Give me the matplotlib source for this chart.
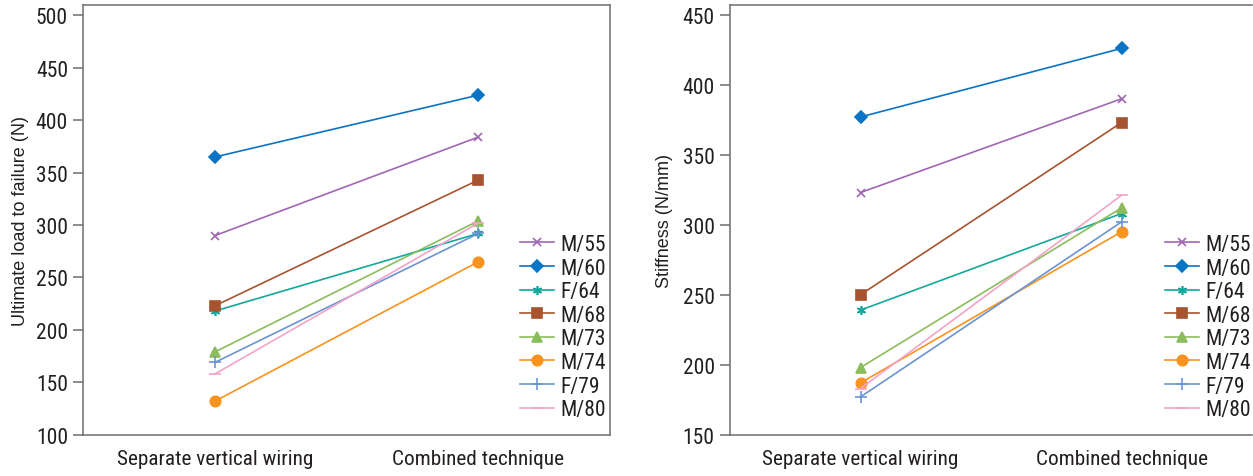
import matplotlib.pyplot as plt

categories = ['Separate vertical wiring', 'Combined technique']
subjects = ['M/55', 'M/60', 'F/64', 'M/68', 'M/73', 'M/74', 'F/79', 'M/80']

load_separate = [290, 365, 218, 223, 179, 132, 169, 158]
load_combined = [384, 424, 292, 343, 304, 265, 292, 302]

stiff_separate = [323, 377, 239, 250, 198, 187, 177, 183]
stiff_combined = [390, 426, 308, 373, 312, 295, 302, 321]

colors = ['#a066b4', '#0a74c4', '#14a89a', '#a8532f', '#8bbd5c', '#f7931e', '#6b93d2', '#f4a3c8']
markers = ['x', 'D', (6, 2, 0), 's', '^', 'o', '+', '_']
msizes = [6, 6.5, 6.5, 7, 7.5, 7.5, 8, 8]

tick_font = ['Liberation Sans Narrow', 'Roboto Condensed', 'DejaVu Sans']
label_font = ['Liberation Sans', 'DejaVu Sans']
text_color = '#231f20'
axis_color = '#6d6e71'

fig = plt.figure(figsize=(12.53, 4.77), dpi=100)
W, H = 1253.0, 477.0

def draw(ax, sep, comb, ylim, yticks, ylabel, label_x, legend_x):
    for i, name in enumerate(subjects):
        ax.plot([0, 1], [sep[i], comb[i]], color=colors[i], lw=1.2,
                marker=markers[i], markersize=msizes[i], markeredgewidth=1.2,
                label=name, clip_on=False)
    ax.set_xlim(-0.5, 1.5)
    ax.set_ylim(*ylim)
    ax.set_yticks(yticks)
    ax.set_xticks([0, 1])
    ax.set_xticklabels(categories, family=tick_font, stretch='condensed',
                       fontsize=15.3, color=text_color)
    ax.set_yticklabels([str(t) for t in yticks], family=tick_font,
                       stretch='condensed', fontsize=15.5, color=text_color)
    ax.tick_params(axis='x', length=0, pad=10)
    ax.tick_params(axis='y', length=7.5, width=1.1, color=axis_color, pad=3.5)
    for s in ax.spines.values():
        s.set_color(axis_color)
        s.set_linewidth(1.1)
    ax.set_ylabel(ylabel, family=label_font, fontsize=13, color=text_color)
    ax.yaxis.set_label_coords(label_x, 0.5)
    ax.yaxis.label.set_verticalalignment('center')
    ax.legend(loc='upper left', bbox_to_anchor=(legend_x / W, 1 - 235 / H),
              bbox_transform=fig.transFigure, frameon=False, borderpad=0,
              borderaxespad=0, handlelength=1.6, handletextpad=0.28,
              labelspacing=0.12,
              prop={'family': tick_font, 'stretch': 'condensed', 'size': 15.5},
              labelcolor=text_color)

ax1 = fig.add_axes([83.3 / W, 41.3 / H, 526.7 / W, 429.7 / H])
draw(ax1, load_separate, load_combined, (100, 510), list(range(100, 501, 50)),
     'Ultimate load to failure (N)', -0.12, 520)

ax2 = fig.add_axes([730 / W, 41.3 / H, 522 / W, 429.7 / H])
draw(ax2, stiff_separate, stiff_combined, (150, 457), list(range(150, 451, 50)),
     'Stiffness (N/mm)', -0.125, 1165)
ax2.spines['right'].set_visible(False)

fig.savefig('out.png', dpi=100)
